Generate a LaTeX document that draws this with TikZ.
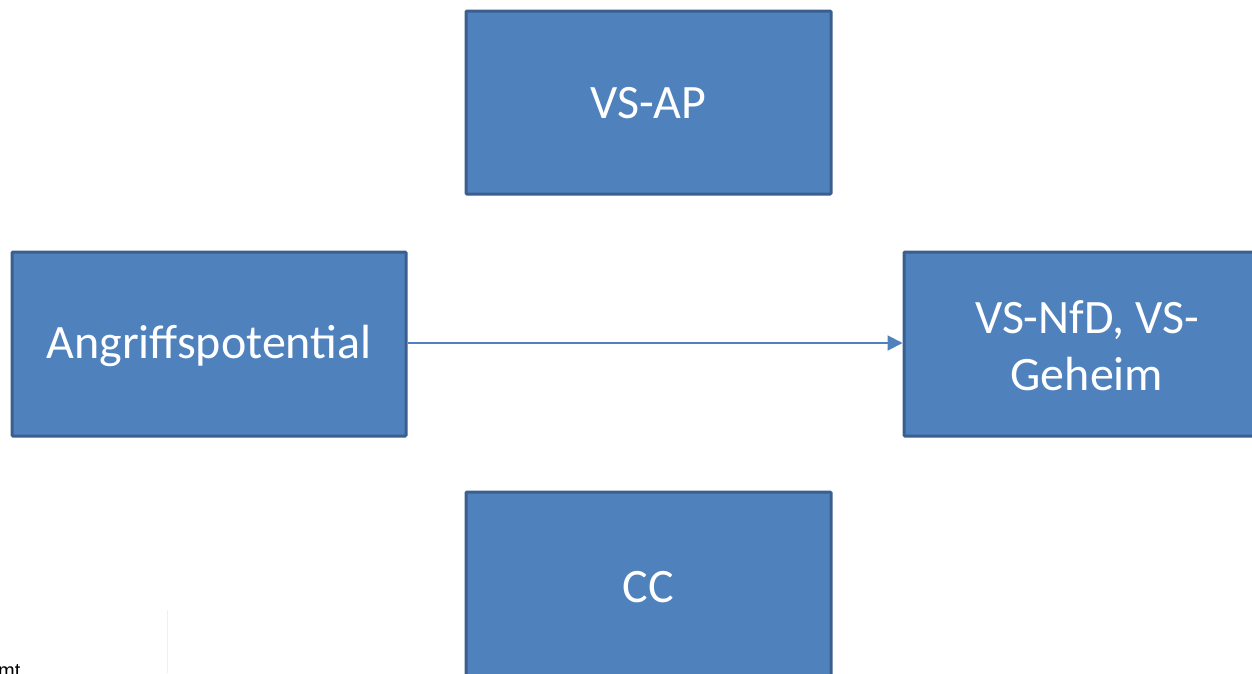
\documentclass[tikz,border=0pt]{standalone}
\usepackage{fontspec}
\setmainfont{Carlito}
\newfontfamily\arialfont{Liberation Sans}
\usetikzlibrary{arrows.meta}
\definecolor{boxfill}{HTML}{4F81BD}
\definecolor{boxline}{HTML}{3A5F8E}
\tikzset{
  box/.style={draw=boxline, line width=3pt, fill=boxfill, rounded corners=1pt},
  boxtext/.style={text=white, font=\fontsize{48}{57}\selectfont, align=center, inner sep=0pt},
  conn/.style={draw=boxfill, line width=2pt, -{Triangle[length=15pt,width=15pt]}}
}
\begin{document}
\begin{tikzpicture}[x=1pt,y=-1pt]
\useasboundingbox (0,0) rectangle (1252,673);
\clip (0,0) rectangle (1252,673);
% boxes
\draw[box] (466,11) rectangle (831,194);
\node[boxtext] (vsap) at (648.5,103.5) {VS-AP};
\draw[box] (12,252) rectangle (406,436);
\node[boxtext] (angr) at (209,346) {Angriffspotential};
\draw[box] (904,252) rectangle (1275,436);
\node[boxtext] (vsnfd) at (1087,346) {VS-NfD, VS-\\Geheim};
\draw[box] (466,492) rectangle (831,700);
\node[boxtext] (cc) at (648.5,587) {CC};
\coordinate (aR) at (407.5,343);
\coordinate (vL) at (902.5,343);
\draw[conn] (aR) -- (vL);
% faint edge and cut-off text
\draw[black!6, line width=1pt] (167,610) -- (167,673);
\node[anchor=base west, inner sep=0pt, font=\arialfont\fontsize{20}{24}\selectfont] (mt) at (-2,677) {mt};
\end{tikzpicture}
\end{document}
